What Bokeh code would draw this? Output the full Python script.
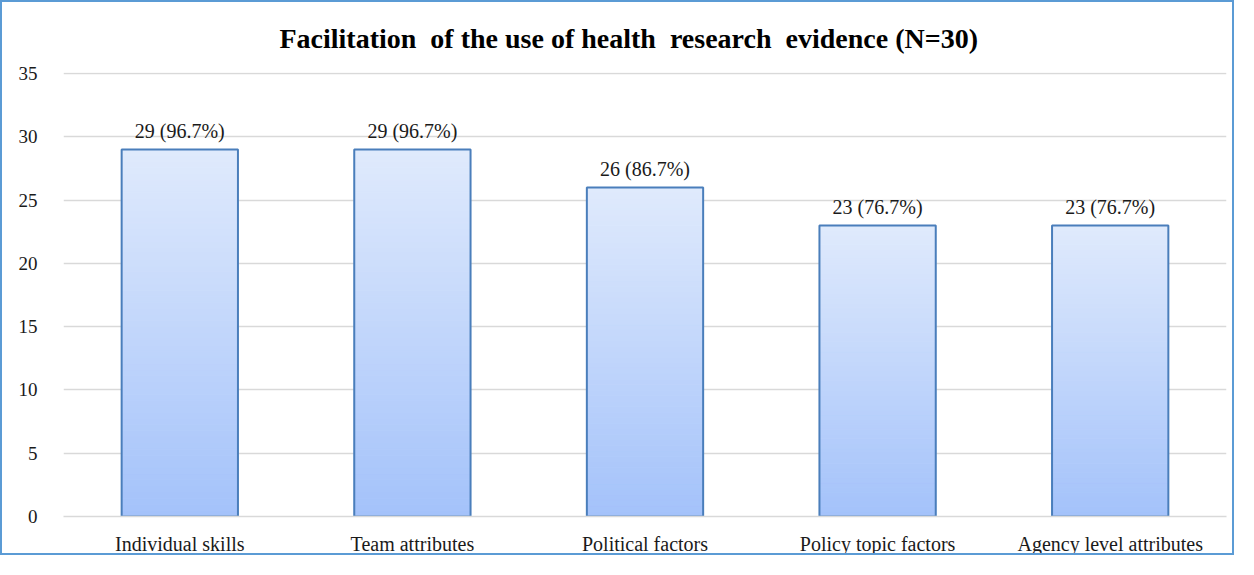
from bokeh.plotting import figure
from bokeh.models import ColumnDataSource, FixedTicker, LabelSet
from bokeh.embed import file_html
from bokeh.resources import INLINE

categories = ["Individual skills", "Team attributes", "Political factors",
              "Policy topic factors", "Agency level attributes"]
counts = [29, 29, 26, 23, 23]
total_n = 30
title_text = "Facilitation\u00a0 of the use of health\u00a0 research\u00a0 evidence (N=30)"
y_ticks = [0, 5, 10, 15, 20, 25, 30, 35]

labels = [f"{c} ({c / total_n * 100:.1f}%)" for c in counts]

FONT = "Liberation Serif"
TOP_RGB = (223, 234, 252)
BOT_RGB = (164, 194, 250)
N_SLICES = 60

p = figure(x_range=categories, y_range=(0, 35.08), width=1234, height=555,
           output_backend="svg", toolbar_location=None, title=title_text,
           min_border_left=61, min_border_right=10, min_border_top=70,
           min_border_bottom=33)
p.styles = {"border": "2px solid #5b9bd5"}

# gradient slices for each bar (dark at bottom, light at top)
xs, bots, tops, cols = [], [], [], []
for cat, v in zip(categories, counts):
    for k in range(N_SLICES):
        t = (k + 0.5) / N_SLICES
        r = round(BOT_RGB[0] + (TOP_RGB[0] - BOT_RGB[0]) * t)
        g = round(BOT_RGB[1] + (TOP_RGB[1] - BOT_RGB[1]) * t)
        b = round(BOT_RGB[2] + (TOP_RGB[2] - BOT_RGB[2]) * t)
        xs.append(cat)
        bots.append(v * k / N_SLICES)
        tops.append(v * (k + 1) / N_SLICES)
        cols.append(f"#{r:02x}{g:02x}{b:02x}")
p.vbar(x=xs, bottom=bots, top=tops, width=0.5, fill_color=cols,
       line_color=cols, line_width=1)

src = ColumnDataSource(dict(x=categories, top=counts, label=labels))
p.vbar(x="x", top="top", width=0.5, source=src, fill_color=None,
       line_color="#4a7ebb", line_width=2)

p.add_layout(LabelSet(x="x", y="top", text="label", source=src,
                      text_align="center", text_baseline="bottom",
                      y_offset=7, text_font=FONT, text_font_size="20px",
                      text_color="#1a1a1a"))

p.title.text_font = FONT
p.title.text_font_size = "28px"
p.title.text_font_style = "bold"
p.title.text_color = "black"
p.title.align = "left"
p.title.standoff = 37
p.title.offset = 216

p.xgrid.grid_line_color = None
p.ygrid.grid_line_color = "#d9d9d9"
p.ygrid.grid_line_width = 1.5
p.yaxis.ticker = FixedTicker(ticks=y_ticks)

for ax in (p.xaxis[0], p.yaxis[0]):
    ax.axis_line_color = None
    ax.major_tick_line_color = None
    ax.minor_tick_line_color = None
    ax.major_label_text_font = FONT
    ax.major_label_text_color = "#1a1a1a"
p.xaxis.axis_line_color = "#d9d9d9"
p.xaxis.axis_line_width = 1.5
p.yaxis.major_label_text_font_size = "19px"
p.yaxis.major_label_standoff = 20
p.xaxis.major_label_text_font_size = "20px"
p.xaxis.major_label_standoff = 10

p.outline_line_color = None
p.background_fill_color = "white"
p.border_fill_color = "white"

open("out.html", "w").write(file_html(p, INLINE))
